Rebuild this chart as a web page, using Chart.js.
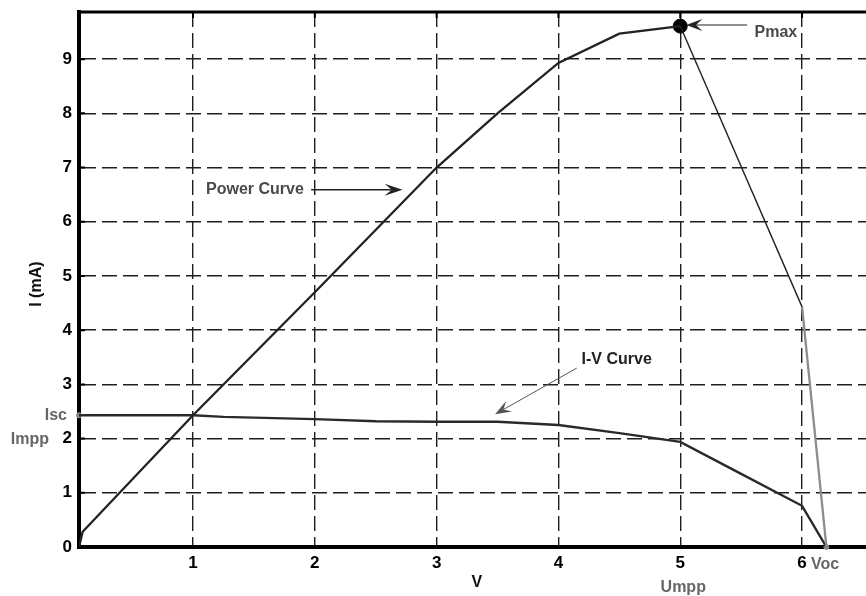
<!DOCTYPE html>
<html>
<head>
<meta charset="utf-8">
<script src="https://cdn.jsdelivr.net/npm/chart.js@4.4.1/dist/chart.umd.min.js"></script>
<style>
html, body { margin: 0; padding: 0; background: #fff; }
#wrap { width: 866px; height: 596px; }
</style>
</head>
<body>
<div id="wrap"><canvas id="pv_chart"></canvas></div>
<script>
// values
const powerV = [0.064, 0.094, 1, 2, 3, 3.5, 4, 4.5, 5, 6, 6.2];
const powerP = [0, 0.28, 2.43, 4.7, 7.0, 8.0, 8.93, 9.47, 9.61, 4.43, 0];

const ivV = [0.064, 1, 1.25, 2, 2.5, 3, 3.5, 4, 4.5, 5, 5.5, 6, 6.2];
const ivI = [2.43, 2.43, 2.4, 2.36, 2.32, 2.31, 2.31, 2.25, 2.1, 1.94, 1.35, 0.76, 0];

const pmaxPoint = [5, 9.61];
const iscPoint = [0.064, 2.43];
const vocPoint = [6.2, 0];

const xTicks = [1, 2, 3, 4, 5, 6];
const yTicks = [0, 1, 2, 3, 4, 5, 6, 7, 8, 9];

function toXY(xs, ys) {
    const out = [];
    for (let i = 0; i < xs.length; i++) {
        out.push({ x: xs[i], y: ys[i] });
    }
    return out;
}

function drawArrow(ctx, x1, y1, x2, y2, color, width, head, half) {
    const ang = Math.atan2(y2 - y1, x2 - x1);
    const cos = Math.cos(ang), sin = Math.sin(ang);
    ctx.strokeStyle = color;
    ctx.fillStyle = color;
    ctx.lineWidth = width;
    ctx.beginPath();
    ctx.moveTo(x1, y1);
    ctx.lineTo(x2 - cos * head * 0.6, y2 - sin * head * 0.6);
    ctx.stroke();
    // notched head
    ctx.beginPath();
    ctx.moveTo(x2, y2);
    ctx.lineTo(x2 - cos * head - sin * half, y2 - sin * head + cos * half);
    ctx.lineTo(x2 - cos * head * 0.6, y2 - sin * head * 0.6);
    ctx.lineTo(x2 - cos * head + sin * half, y2 - sin * head - cos * half);
    ctx.closePath();
    ctx.fill();
}

const notes = {
    id: "notes",
    afterDatasetsDraw(chart) {
        const ctx = chart.ctx;
        const sx = chart.scales.x;
        const sy = chart.scales.y;
        const a = chart.chartArea;
        const px = v => sx.getPixelForValue(v);
        const py = v => sy.getPixelForValue(v);
        ctx.save();

        // top frame line and small inner ticks
        ctx.strokeStyle = "#000";
        ctx.lineWidth = 3;
        ctx.beginPath();
        ctx.moveTo(a.left - 2, a.top);
        ctx.lineTo(a.right, a.top);
        ctx.stroke();
        ctx.lineWidth = 2;
        ctx.beginPath();
        for (let i = 0; i < xTicks.length; i++) {
            ctx.moveTo(px(xTicks[i]), a.top);
            ctx.lineTo(px(xTicks[i]), a.top + 6);
        }
        for (let i = 1; i < yTicks.length; i++) {
            ctx.moveTo(a.left, py(yTicks[i]));
            ctx.lineTo(a.left + 6, py(yTicks[i]));
        }
        ctx.stroke();

        ctx.font = "bold 16px 'Liberation Sans', Arial, sans-serif";
        ctx.textBaseline = "middle";

        // Power Curve
        ctx.fillStyle = "#4a4a4a";
        ctx.textAlign = "left";
        ctx.fillText("Power Curve", px(1.107), py(6.59));
        drawArrow(ctx, px(1.97), py(6.59), px(2.72), py(6.59), "#222", 1.5, 18, 6);

        // I-V Curve
        ctx.fillText("I-V Curve", px(4.19), py(3.46));
        drawArrow(ctx, px(4.15), py(3.3), px(3.48), py(2.45), "#555", 1, 16, 6);

        // Pmax
        ctx.fillStyle = "#4a4a4a";
        ctx.fillText("Pmax", px(5.61), py(9.49));
        drawArrow(ctx, px(5.55), py(9.63), px(5.05), py(9.63), "#222", 1, 16, 6);

        // outside labels
        ctx.fillStyle = "#666";
        ctx.textAlign = "right";
        ctx.fillText("Isc", a.left - 12, py(2.43));
        ctx.fillText("Impp", a.left - 30, py(2.0) + 1);
        ctx.textAlign = "left";
        ctx.fillText("Voc", px(6) + 9, a.bottom + 18);
        ctx.textAlign = "center";
        ctx.fillText("Umpp", px(5) + 3, a.bottom + 41);

        // axis titles
        ctx.fillStyle = "#111";
        ctx.fillText("V", px(3.33), a.bottom + 36);
        ctx.translate(37, py(4.85));
        ctx.rotate(-Math.PI / 2);
        ctx.fillText("I (mA)", 0, 0);
        ctx.restore();
    }
};

const gridColor = "#1e1e1e";
const tickFont = { family: "'Liberation Sans', Arial, sans-serif", size: 17, weight: "bold" };

new Chart(document.getElementById("pv_chart").getContext("2d"), {
    type: "scatter",
    data: {
        datasets: [
            {
                label: "Power Curve",
                data: toXY(powerV, powerP),
                showLine: true,
                borderColor: "#222",
                borderWidth: 2.3,
                pointRadius: 0,
                segment: {
                    borderColor: c => c.p0DataIndex === powerV.length - 2 ? "#8c8c8c" : undefined,
                    borderWidth: c => c.p0DataIndex === powerV.length - 3 ? 1.4 : undefined
                }
            },
            {
                label: "I-V Curve",
                data: toXY(ivV, ivI),
                showLine: true,
                borderColor: "#2a2a2a",
                borderWidth: 2.4,
                pointRadius: 0
            },
            {
                label: "Pmax",
                data: [{ x: pmaxPoint[0], y: pmaxPoint[1] }],
                pointRadius: 7,
                backgroundColor: "#000",
                borderColor: "#000",
                clip: false
            },
            {
                label: "Isc / Voc",
                data: [{ x: iscPoint[0], y: iscPoint[1] }, { x: vocPoint[0], y: vocPoint[1] }],
                pointRadius: 2.5,
                backgroundColor: "#888",
                borderColor: "#888",
                clip: false
            }
        ]
    },
    options: {
        responsive: true,
        maintainAspectRatio: false,
        animation: false,
        layout: { autoPadding: false, padding: { top: 12, right: 0, bottom: 0, left: 0 } },
        plugins: {
            legend: { display: false },
            tooltip: { enabled: false }
        },
        scales: {
            x: {
                type: "linear",
                min: 0.064,
                max: 6.525,
                afterFit: s => { s.height = 49; s.paddingLeft = 0; s.paddingRight = 0; },
                afterBuildTicks: s => { s.ticks = xTicks.map(v => ({ value: v })); },
                grid: { color: gridColor, lineWidth: 1.4, drawTicks: false },
                border: { display: true, color: "#000", width: 4, dash: [15, 6] },
                ticks: { color: "#000", padding: 6, font: tickFont }
            },
            y: {
                type: "linear",
                min: 0,
                max: 9.87,
                afterFit: s => { s.width = 79; s.paddingTop = 0; s.paddingBottom = 0; },
                afterBuildTicks: s => { s.ticks = yTicks.map(v => ({ value: v })); },
                grid: { color: gridColor, lineWidth: 1.4, drawTicks: false },
                border: { display: true, color: "#000", width: 4, dash: [15, 6] },
                ticks: { color: "#000", padding: 7, font: tickFont }
            }
        }
    },
    plugins: [notes]
});
</script>
</body>
</html>
